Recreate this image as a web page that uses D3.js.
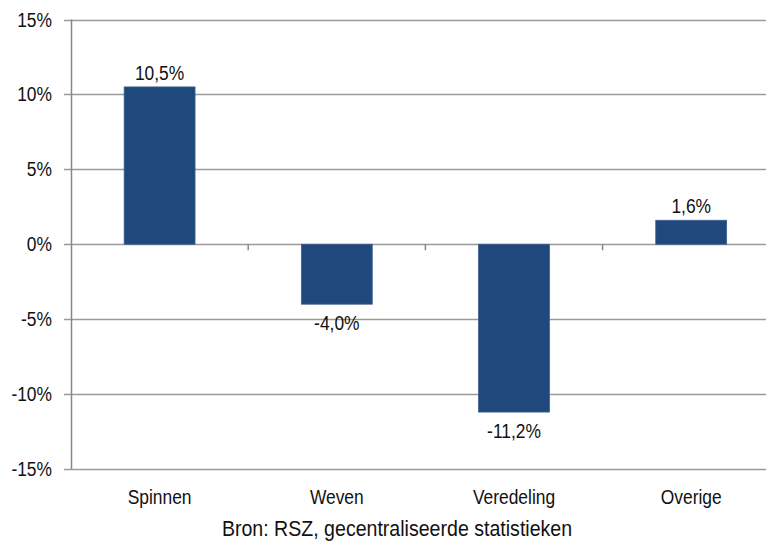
<!DOCTYPE html>
<html>
<head>
<meta charset="utf-8">
<script src="https://cdn.jsdelivr.net/npm/d3@7"></script>
<style>
	html, body { margin: 0; padding: 0; background: #fff; }
	svg { display: block; font-family: "Liberation Sans", Arial, sans-serif; }
</style>
</head>
<body>
<div id="chart"></div>
<script>
//	数据
const categories = ['Spinnen', 'Weven', 'Veredeling', 'Overige'];
const values = [10.5, -4.0, -11.2, 1.6];
const yTicks = [15, 10, 5, 0, -5, -10, -15];
const source = 'Bron: RSZ, gecentraliseerde statistieken';

const width = 766, height = 543;
const plotLeft = 71, plotTop = 19.5, plotBottom = 469;
const band = 177.2;
//	komma als decimaalteken, gewoon koppelteken als minteken
const fmt = v => d3.format('.1f')(v).replace('.', ',').replace('\u2212', '-') + '%';

const svg = d3.select('#chart')
	.append('svg')
	.attr('width', width)
	.attr('height', height);

const x = d3.scaleBand()
	.domain(categories)
	.range([plotLeft, plotLeft + band * categories.length])
	.paddingInner(0.6)
	.paddingOuter(0.3);

const y = d3.scaleLinear()
	.domain([-15, 15])
	.range([plotBottom, plotTop]);

//	smal lettertype: schaal horizontaal
const label = (g, tx, ty, txt, anchor, size) => {
	g.append('text')
		.attr('transform', 'translate(' + tx + ',' + ty + ') scale(0.87,1)')
		.attr('text-anchor', anchor)
		.style('font-size', (size || 20) + 'px')
		.style('fill', '#111')
		.text(txt);
};

//	rasterlijnen
svg.append('g')
	.selectAll('line')
	.data(yTicks)
	.enter()
	.append('line')
	.attr('x1', plotLeft - 7)
	.attr('x2', width)
	.attr('y1', d => Math.round(y(d)) + 0.5)
	.attr('y2', d => Math.round(y(d)) + 0.5)
	.attr('stroke', '#9a9a9a')
	.attr('stroke-width', 1.5);

//	y-as
svg.append('line')
	.attr('x1', plotLeft + 0.5)
	.attr('x2', plotLeft + 0.5)
	.attr('y1', y(15))
	.attr('y2', y(-15))
	.attr('stroke', '#878787')
	.attr('stroke-width', 1.5);

//	categorie tickjes op de nullijn
const bounds = d3.range(1, categories.length + 1).map(i => plotLeft + band * i);
svg.append('g')
	.selectAll('line')
	.data(bounds)
	.enter()
	.append('line')
	.attr('x1', d => d)
	.attr('x2', d => d)
	.attr('y1', y(0))
	.attr('y2', y(0) + 6)
	.attr('stroke', '#878787')
	.attr('stroke-width', 1.5);

//	staven
svg.append('g')
	.selectAll('rect')
	.data(values)
	.enter()
	.append('rect')
	.attr('x', (d, i) => x(categories[i]))
	.attr('width', x.bandwidth())
	.attr('y', d => y(Math.max(0, d)))
	.attr('height', d => Math.abs(y(d) - y(0)))
	.style('fill', '#1f497d')
	.attr('stroke', '#3c5f8c')
	.attr('stroke-width', 0.8);

//	waardelabels
const vals = svg.append('g');
values.forEach((d, i) => {
	const cx = x(categories[i]) + x.bandwidth() / 2;
	const ty = d >= 0 ? y(d) - 7 : y(d) + 26;
	label(vals, cx, ty, fmt(d), 'middle');
});

//	y-as labels
const yl = svg.append('g');
yTicks.forEach(t => label(yl, 52, y(t) + 7, t + '%', 'end'));

//	categorie labels
const xl = svg.append('g');
categories.forEach(c => label(xl, x(c) + x.bandwidth() / 2, 504, c, 'middle'));

//	bron
label(svg, 397, 536, source, 'middle', 22.5);
</script>
</body>
</html>
